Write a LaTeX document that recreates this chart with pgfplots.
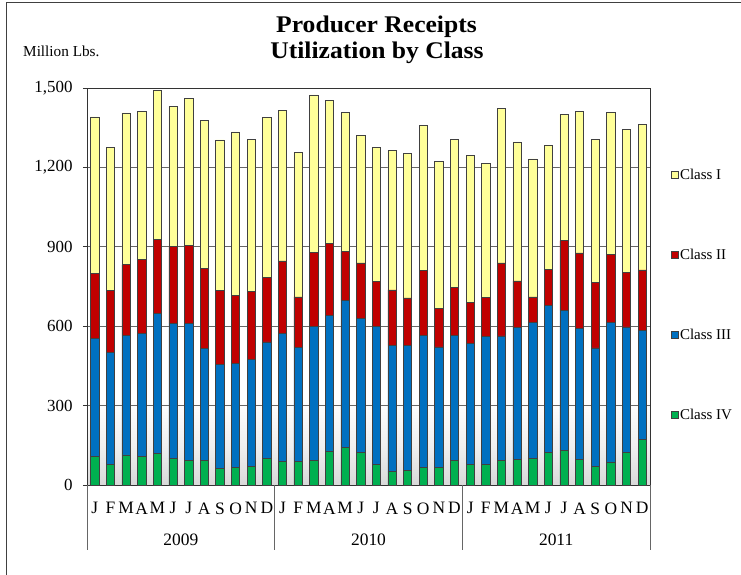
\documentclass[border=0pt]{standalone}
\usepackage{fontspec}
\setmainfont{Liberation Serif}
\newfontfamily\titlefont[FakeStretch=1.07]{Liberation Serif}
\usepackage{pgfplots}
\usepackage{pgfplotstable}
\pgfplotsset{compat=1.18}
\definecolor{cI}{HTML}{FFFF99}
\definecolor{cII}{HTML}{C00000}
\definecolor{cIII}{HTML}{0070C0}
\definecolor{cIV}{HTML}{00B050}
\pgfdeclareverticalshading{bggrad}{100bp}{color(0bp)=(black!15); color(25bp)=(black!15); color(30bp)=(black!6); color(36bp)=(white); color(100bp)=(white)}

\pgfplotstableread{
x IV III II I
0 108 445 245 593
1 79 421 234 541
2 114 452 266 574
3 107 467 279 560
4 120 527 282 562
5 99 513 290 529
6 94 518 294 554
7 94 421 304 558
8 64 391 279 570
9 66 392 258 618
10 69 405 257 575
11 100 441 243 606
12 89 485 273 568
13 88 431 192 547
14 92 506 282 594
15 129 513 270 540
16 143 553 187 525
17 123 507 209 483
18 79 519 171 506
19 50 477 210 526
20 56 472 179 545
21 65 499 247 549
22 66 456 145 557
23 92 472 183 559
24 77 459 153 555
25 77 484 148 505
26 94 469 276 583
27 98 496 177 525
28 100 513 98 521
29 124 556 136 466
30 132 529 262 477
31 98 493 286 534
32 70 448 247 541
33 87 526 259 536
34 124 473 206 540
35 173 410 230 550
}\datatable

\begin{document}
\begin{tikzpicture}
\useasboundingbox (0bp,0bp) rectangle (741bp,575bp);
\draw[black!75, line width=0.8bp] (6bp,-5bp) -- (6bp,573bp) -- (750bp,573bp);
\node[anchor=base, font=\fontsize{24}{27}\selectfont\titlefont\bfseries] at (376.5bp,542bp) {Producer Receipts};
\node[anchor=base, font=\fontsize{24}{27}\selectfont\titlefont\bfseries] at (377bp,516bp) {Utilization by Class};
\node[anchor=base west, font=\fontsize{15.3}{18}\selectfont, inner sep=0pt] at (23bp,518bp) {Million Lbs.};
\begin{axis}[
  at={(87bp,90bp)}, anchor=south west,
  scale only axis, width=563bp, height=397bp,
  axis background/.style={shading=bggrad},
  xmin=-0.5, xmax=35.5, ymin=0, ymax=1500,
  ybar stacked, bar width=8.3bp,
  clip=false,
  axis line style={black!80, line width=0.8bp},
  ytick={0,300,...,1500},
  ymajorgrids, grid style={black!60, line width=0.8bp},
  ytick pos=left, tick align=outside, major tick length=4bp,
  ytick style={black!80, line width=0.8bp},
  yticklabel style={font=\fontsize{17}{20}\selectfont, xshift=-7bp, /pgf/number format/1000 sep={,}},
  /pgf/number format/assume math mode=true,
  xtick={0,...,35},
  xticklabels={J,F,M,A,M,J,J,A,S,O,N,D,J,F,M,A,M,J,J,A,S,O,N,D,J,F,M,A,M,J,J,A,S,O,N,D},
  xtick style={draw=none},
  xticklabel style={font=\fontsize{17.5}{20}\selectfont, yshift=-10bp},
  every axis plot/.append style={draw=black!75, line width=0.6bp},
  sqleg/.style={legend image code/.code={\draw[##1, draw=black!75, line width=0.5bp] (0bp,-3.5bp) rectangle (7bp,3.5bp);}},
  reverse legend,
  legend style={draw=none, fill=none, at={(1.037,0.80)}, anchor=north west, row sep=65bp,
    font=\fontsize{15}{18}\selectfont, inner sep=0pt, nodes={inner sep=1.5bp}},
  legend cell align=left,
]
\addplot[fill=cIV, sqleg] table[x=x, y=IV] {\datatable};
\addlegendentry{Class IV}
\addplot[fill=cIII, sqleg] table[x=x, y=III] {\datatable};
\addlegendentry{Class III}
\addplot[fill=cII, sqleg] table[x=x, y=II] {\datatable};
\addlegendentry{Class II}
\addplot[fill=cI, sqleg] table[x=x, y=I] {\datatable};
\addlegendentry{Class I}
\draw[black!60, line width=0.8bp] (axis cs:-0.5,0) -- ++(0bp,-65bp);
\draw[black!60, line width=0.8bp] (axis cs:11.5,0) -- ++(0bp,-65bp);
\draw[black!60, line width=0.8bp] (axis cs:23.5,0) -- ++(0bp,-65bp);
\draw[black!60, line width=0.8bp] (axis cs:35.5,0) -- ++(0bp,-65bp);
\node[anchor=base, font=\fontsize{17.5}{20}\selectfont, inner sep=0pt] at (axis cs:5.5,0) [yshift=-60bp] {2009};
\node[anchor=base, font=\fontsize{17.5}{20}\selectfont, inner sep=0pt] at (axis cs:17.5,0) [yshift=-60bp] {2010};
\node[anchor=base, font=\fontsize{17.5}{20}\selectfont, inner sep=0pt] at (axis cs:29.5,0) [yshift=-60bp] {2011};
\end{axis}
\end{tikzpicture}
\end{document}
